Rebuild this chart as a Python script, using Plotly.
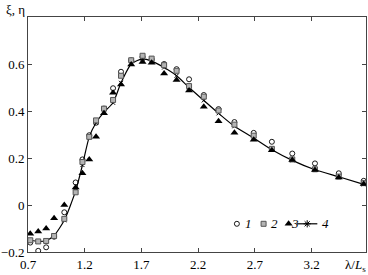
import plotly.graph_objects as go

# ---- data ----
x = [0.72, 0.79, 0.86, 0.93, 1.02, 1.12, 1.18, 1.24, 1.30, 1.37, 1.45, 1.52, 1.61, 1.71,
     1.79, 1.90, 2.01, 2.12, 2.25, 2.38, 2.52, 2.69, 2.85, 3.03, 3.23, 3.44, 3.66]
s1 = [-0.160, -0.195, -0.180, -0.135, -0.031, 0.096, 0.194, 0.297, 0.350, 0.410, 0.497, 0.567, 0.615, 0.630,
      0.620, 0.600, 0.578, 0.535, 0.468, 0.408, 0.353, 0.307, 0.269, 0.219, 0.177, 0.135, 0.103]
s2 = [-0.150, -0.155, -0.153, -0.132, -0.059, 0.054, 0.183, 0.290, 0.360, 0.410, 0.447, 0.550, 0.616, 0.635,
      0.623, 0.595, 0.571, 0.506, 0.461, 0.402, 0.342, 0.295, 0.239, 0.194, 0.152, 0.121, 0.093]
s3 = [-0.122, -0.113, -0.100, -0.056, 0.000, 0.075, 0.135, 0.194, 0.290, 0.390, 0.478, 0.513, 0.598, 0.609,
      0.605, 0.560, 0.532, 0.487, 0.418, 0.356, 0.307, 0.278, 0.233, 0.191, 0.149, 0.117, 0.089]
s4 = [-0.150, -0.155, -0.152, -0.130, -0.065, 0.060, 0.170, 0.290, 0.350, 0.395, 0.435, 0.520, 0.600, 0.622,
      0.612, 0.585, 0.550, 0.500, 0.445, 0.390, 0.335, 0.285, 0.235, 0.190, 0.150, 0.120, 0.088]
series_names = ["1", "2", "3", "4"]
x_ticks = [0.7, 1.2, 1.7, 2.2, 2.7, 3.2]
x_ticklabels = ["0.7", "1.2", "1.7", "2.2", "2.7", "3.2"]
y_ticks = [-0.2, 0, 0.2, 0.4, 0.6]
y_ticklabels = ["\u22120.2", "0", "0.2", "0.4", "0.6"]

FONT = "Liberation Serif"

sty1 = dict(symbol="circle-open", size=5, color="black", line=dict(width=0.9, color="black"))
sty2 = dict(symbol="square", size=5, color="#b4b4b4", line=dict(width=1, color="#555555"))
sty3 = dict(symbol="triangle-up", size=7, color="black", line=dict(width=0))
sty4 = dict(symbol="x-thin-open", size=4, color="black", line=dict(width=1, color="black"))

fig = go.Figure()
fig.add_trace(go.Scatter(x=x, y=s4, mode="lines+markers", line=dict(color="black", width=1.2, shape="spline", smoothing=0.6),
                         marker=sty4, name=series_names[3], showlegend=False))
fig.add_trace(go.Scatter(x=x, y=s1, mode="markers", marker=sty1, name=series_names[0], showlegend=False))
fig.add_trace(go.Scatter(x=x, y=s2, mode="markers", marker=sty2, name=series_names[1], showlegend=False))
fig.add_trace(go.Scatter(x=x, y=s3, mode="markers", marker=sty3, name=series_names[2], showlegend=False))

# ---- hand-made compact legend on an overlay paper-like axis ----
leg_y = 0.12
leg_sym_x = [0.618, 0.697, 0.771]
leg_txt_x = [0.652, 0.729, 0.789, 0.881]
leg_line_x = [0.796, 0.856]
fig.add_trace(go.Scatter(x=[leg_sym_x[0]], y=[leg_y], mode="markers", marker=sty1, xaxis="x2", yaxis="y2", showlegend=False))
fig.add_trace(go.Scatter(x=[leg_sym_x[1]], y=[leg_y], mode="markers", marker=sty2, xaxis="x2", yaxis="y2", showlegend=False))
fig.add_trace(go.Scatter(x=[leg_sym_x[2]], y=[leg_y], mode="markers", marker=sty3, xaxis="x2", yaxis="y2", showlegend=False))
fig.add_trace(go.Scatter(x=leg_line_x, y=[leg_y, leg_y], mode="lines", line=dict(color="black", width=1.2),
                         xaxis="x2", yaxis="y2", showlegend=False))
fig.add_trace(go.Scatter(x=[sum(leg_line_x) / 2], y=[leg_y], mode="markers",
                         marker=dict(symbol="asterisk-open", size=6, color="black", line=dict(width=1, color="black")),
                         xaxis="x2", yaxis="y2", showlegend=False))

annotations = []
for tx, nm in zip(leg_txt_x, series_names):
    annotations.append(dict(x=tx, y=leg_y, xref="paper", yref="paper", text="<i>" + nm + "</i>", showarrow=False,
                            xanchor="center", yanchor="middle", font=dict(family=FONT, size=13, color="black")))
annotations.append(dict(x=-0.07, y=1.03, xref="paper", yref="paper", text="\u03be, \u03b7", showarrow=False,
                        xanchor="left", yanchor="middle", font=dict(family=FONT, size=13, color="black")))
annotations.append(dict(x=1.0, y=-0.056, xref="paper", yref="paper", text="\u03bb/<i>L</i><sub>s</sub>", showarrow=False,
                        xanchor="right", yanchor="middle", xshift=2, font=dict(family=FONT, size=13, color="black")))

axis_common = dict(showgrid=False, zeroline=False, showline=True, linecolor="#444444", linewidth=1,
                   ticks="inside", ticklen=4, tickcolor="#444444", mirror="ticks",
                   tickfont=dict(family=FONT, size=13, color="black"))

fig.update_layout(
    width=368, height=275,
    margin=dict(l=27, r=1, t=17, b=23),
    plot_bgcolor="white", paper_bgcolor="white",
    xaxis=dict(range=[0.7, 3.68], tickvals=x_ticks, ticktext=x_ticklabels, **axis_common),
    yaxis=dict(range=[-0.2, 0.8], tickvals=y_ticks, ticktext=y_ticklabels, **axis_common),
    xaxis2=dict(range=[0, 1], overlaying="x", visible=False, anchor="y2"),
    yaxis2=dict(range=[0, 1], overlaying="y", visible=False, anchor="x2"),
    annotations=annotations,
    showlegend=False,
)

fig.write_html("out.html")
